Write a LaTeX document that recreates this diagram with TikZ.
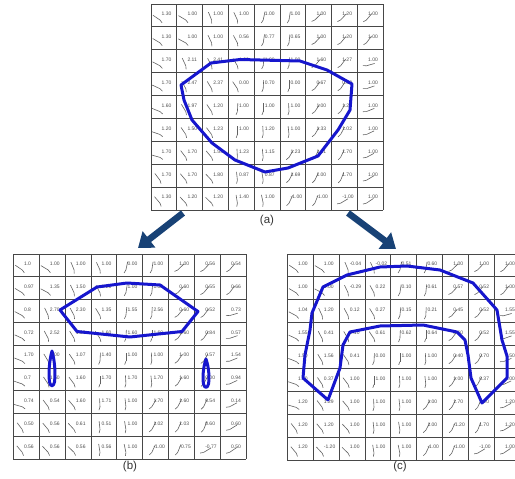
\documentclass[tikz,border=0pt]{standalone}
\usepackage{fontspec}
\setmainfont{Liberation Sans}
\usetikzlibrary{arrows.meta}
\definecolor{curveblue}{RGB}{22,22,205}
\definecolor{arrowblue}{RGB}{24,66,118}
\newcommand\valuegrid[6]{%
  \foreach \k in {0,...,9}{
    \draw[gridline] ({#1+\k*#3},#2) -- ({#1+\k*#3},{#2+9*#4});
    \draw[gridline] (#1,{#2+\k*#4}) -- ({#1+9*#3},{#2+\k*#4});
  }
  \foreach \row [count=\r] in {#6}{
    \foreach \v [count=\c] in \row {
      \pgfmathsetmacro\cx{#1+(\c-1)*#3}
      \pgfmathsetmacro\cy{#2+(\r-1)*#4}
      \pgfmathsetmacro\ang{-90+(\c-5)*14+mod(\r*37+\c*23,40)-20}
      \draw[hook] (\cx+9,\cy+16) -- ++(\ang:8.5);
      \draw[hook] (\cx+9,\cy+16) -- ++(\ang+200:3.5);
      \node[num] (#5-\r-\c) at (\cx+10.5,\cy+10) {\v};
    }
  }
}
\begin{document}
\begin{tikzpicture}[x=1pt,y=-1pt,
  gridline/.style={draw=black!72, line width=0.9pt},
  num/.style={font=\fontsize{5}{5.5}\selectfont, text=black!70, inner sep=0pt, anchor=west},
  hook/.style={draw=black!62, line width=0.6pt},
  outline/.style={draw=curveblue, line width=3pt, line join=round, line cap=round},
  bigarrow/.style={draw=arrowblue, line width=6.5pt, -{Triangle[width=20pt,length=14pt]}},
  caption/.style={font=\fontsize{11.5}{13}\selectfont, text=black!80, inner sep=0pt}]
\useasboundingbox (0,0) rectangle (515,479);

% grid (a)
\valuegrid{151}{4}{25.8}{22.9}{ga}{%
{1.30,1.00,1.00,1.00,1.00,1.00,1.00,1.20,1.00},
{1.30,1.00,1.00,0.56,0.77,0.65,1.00,1.20,1.00},
{1.70,2.11,2.41,1.00,1.00,1.00,1.60,1.27,1.00},
{1.70,2.47,2.37,0.00,0.70,0.00,0.67,0.62,1.00},
{1.60,1.97,1.20,1.00,1.00,1.00,1.00,1.20,1.00},
{1.20,1.50,1.23,1.00,1.20,1.00,1.33,1.02,1.00},
{1.70,1.70,1.55,1.23,1.15,1.23,1.61,1.70,1.00},
{1.70,1.70,1.80,0.87,0.87,1.69,1.00,1.70,1.00},
{1.30,1.20,1.20,1.40,1.00,-1.00,-1.00,-1.00,1.00}}

% grid (b)
\valuegrid{13.3}{254}{25.9}{22.8}{gb}{%
{1.0,1.00,1.00,1.00,0.00,1.00,1.00,0.56,0.54},
{0.97,1.35,1.50,1.20,1.00,1.00,0.60,0.55,0.66},
{0.8,2.70,2.30,1.35,1.55,2.56,0.60,0.52,0.73},
{0.72,2.52,1.60,1.60,1.60,1.60,1.60,0.84,0.57},
{1.70,2.00,1.07,1.40,1.00,1.00,1.00,0.57,1.54},
{0.7,1.50,1.60,1.70,1.70,1.70,1.60,0.00,0.94},
{0.74,0.54,1.60,1.71,1.00,1.70,1.60,0.54,0.14},
{0.50,0.56,0.61,0.51,1.00,1.02,1.03,0.60,0.60},
{0.56,0.56,0.56,0.56,1.00,-1.00,-0.75,-0.77,0.50}}

% grid (c)
\valuegrid{287.3}{254}{25.9}{22.9}{gc}{%
{1.00,1.00,-0.04,-0.02,0.51,0.60,1.00,1.00,1.00},
{1.00,1.00,-0.29,0.22,0.10,0.61,0.57,0.52,1.00},
{1.04,1.20,0.12,0.27,0.15,0.21,0.45,0.52,1.55},
{1.55,0.41,0.10,0.61,0.62,0.64,0.60,0.52,1.55},
{1.50,1.56,0.41,0.00,1.00,1.00,0.40,0.70,1.50},
{1.10,0.37,1.00,1.00,1.00,1.00,1.00,0.37,1.00},
{1.20,1.29,1.00,1.00,1.00,1.00,1.70,1.20,1.20},
{1.20,1.20,1.00,1.00,1.00,1.00,-1.20,1.70,1.20},
{1.20,-1.20,1.00,1.00,1.00,-1.00,-1.00,-1.00,1.00}}

% blue outline (a)
\draw[outline] (181,85) -- (211,63) -- (240,59.5) -- (300,61) -- (327,70) -- (352,84)
  -- (350,110) -- (338,130) -- (318,156) -- (288,168) -- (265,172) -- (235,160)
  -- (212,143) -- (192,120) -- (184,100) -- cycle;

% blue outline (b)
\draw[outline] (60,310) -- (97,287) -- (127,283) -- (160,285) -- (198,311.5)
  -- (182,331.5) -- (130,337) -- (77,331.5) -- cycle;
\draw[outline] (52,351) .. controls (55,362) and (55.5,374) .. (54.5,382)
  .. controls (53.5,387) and (50.5,387) .. (49.5,382)
  .. controls (48.5,374) and (49,362) .. (52,351);
\draw[outline] (206,359) .. controls (209,368) and (209.5,378) .. (208.5,384)
  .. controls (207.5,388.5) and (204.5,388.5) .. (203.5,384)
  .. controls (202.5,378) and (203,368) .. (206,359);

% blue outline (c)
\draw[outline] (303,378) -- (305,355) -- (310,330) -- (312,313) -- (323,287)
  -- (347,275) -- (380,267) -- (407,266) -- (440,270) -- (473,283) -- (497,310)
  -- (502,340) -- (507,356) -- (507,378) -- (482,403) -- (471,378) -- (468,355)
  -- (465,340) -- (457,332) -- (423,325) -- (380,326) -- (350,332) -- (343,345)
  -- (340,368) -- (328,400) -- cycle;

% arrows
\coordinate (la-start) at (183,213);
\coordinate (la-end) at (138,248);
\coordinate (ra-start) at (348,213);
\coordinate (ra-end) at (396,249);
\draw[bigarrow] (la-start) -- (la-end);
\draw[bigarrow] (ra-start) -- (ra-end);

% captions
\node[caption] (cap-a) at (267,221) {(a)};
\node[caption] (cap-b) at (130,467) {(b)};
\node[caption] (cap-c) at (400,467) {(c)};
\end{tikzpicture}
\end{document}
